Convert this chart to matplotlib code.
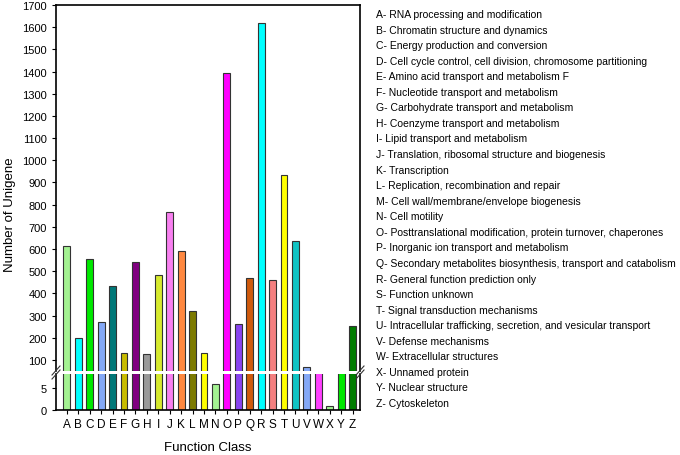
import matplotlib
matplotlib.use('Agg')
import matplotlib.pyplot as plt
from matplotlib.lines import Line2D

plt.rcParams['font.family'] = ['Liberation Sans', 'DejaVu Sans']

classes = list('ABCDEFGHIJKLMNOPQRSTUVWXYZ')
counts = [612, 200, 555, 270, 435, 130, 542, 127, 483, 765, 590, 320, 133,
          6, 1395, 260, 470, 1620, 460, 932, 635, 68, 30, 1, 30, 255]
colors = ['#a4f292', '#00ffff', '#00e800', '#84a8f6', '#007878', '#c8bc00',
          '#800080', '#999999', '#d6ea2e', '#f880f0', '#ff8840', '#7c7a00',
          '#ffff00', '#a4f292', '#ff00ff', '#8844f0', '#d05a0c', '#00ffff',
          '#f48080', '#ffff00', '#10c4c4', '#84a8f6', '#ff40ff', '#a4f292',
          '#00e800', '#007c00']
descriptions = [
    'RNA processing and modification',
    'Chromatin structure and dynamics',
    'Energy production and conversion',
    'Cell cycle control, cell division, chromosome partitioning',
    'Amino acid transport and metabolism F',
    'Nucleotide transport and metabolism',
    'Carbohydrate transport and metabolism',
    'Coenzyme transport and metabolism',
    'Lipid transport and metabolism',
    'Translation, ribosomal structure and biogenesis',
    'Transcription',
    'Replication, recombination and repair',
    'Cell wall/membrane/envelope biogenesis',
    'Cell motility',
    'Posttranslational modification, protein turnover, chaperones',
    'Inorganic ion transport and metabolism',
    'Secondary metabolites biosynthesis, transport and catabolism',
    'General function prediction only',
    'Function unknown',
    'Signal transduction mechanisms',
    'Intracellular trafficking, secretion, and vesicular transport',
    'Defense mechanisms',
    'Extracellular structures',
    'Unnamed protein',
    'Nuclear structure',
    'Cytoskeleton',
]

W, H = 680, 456
fig = plt.figure(figsize=(W / 100, H / 100), dpi=100)

def box(x0, y0, x1, y1):
    # pixel coords (top-left origin) -> figure fraction rect
    return [x0 / W, 1 - y1 / H, (x1 - x0) / W, (y1 - y0) / H]

ax_top = fig.add_axes(box(56, 6, 360, 372))
ax_bot = fig.add_axes(box(56, 375, 360, 411))

x = list(range(len(classes)))
for ax in (ax_top, ax_bot):
    ax.bar(x, counts, width=0.6, color=colors, edgecolor='#333333', linewidth=0.8)
    ax.set_xlim(-0.95, len(classes) - 0.35)
    ax.tick_params(labelsize=8, length=3, width=0.8, direction='out')
    for s in ax.spines.values():
        s.set_linewidth(1.2)

ax_top.set_ylim(50, 1700)
ax_top.set_yticks(range(100, 1701, 100))
ax_top.spines['bottom'].set_visible(False)
ax_top.tick_params(axis='x', bottom=False, labelbottom=False)

ax_bot.set_ylim(0, 8.2)
ax_bot.set_yticks([0, 5])
ax_bot.spines['top'].set_visible(False)
ax_bot.set_xticks(x)
ax_bot.set_xticklabels(classes, fontsize=8.5)
ax_bot.tick_params(axis='x', pad=3)

fig.text(208 / W, 1 - 448 / H, 'Function Class', fontsize=9.5,
         ha='center', va='center')
fig.text(10 / W, 1 - 215 / H, 'Number of Unigene', rotation=90,
         ha='center', va='center', fontsize=9.5)

# break marks on both spines
for xp in (56, 360):
    for dy in (-2, 2):
        fig.add_artist(Line2D([(xp - 4) / W, (xp + 4) / W],
                              [1 - (378 + dy) / H, 1 - (369 + dy) / H],
                              color='#333333', linewidth=0.8))

# category descriptions
for i, (c, d) in enumerate(zip(classes, descriptions)):
    y = 15 + i * (404 - 15) / 25
    fig.text(376 / W, 1 - y / H, '%s- %s' % (c, d), fontsize=7.5,
             ha='left', va='center')

fig.savefig('out.png', dpi=100)
